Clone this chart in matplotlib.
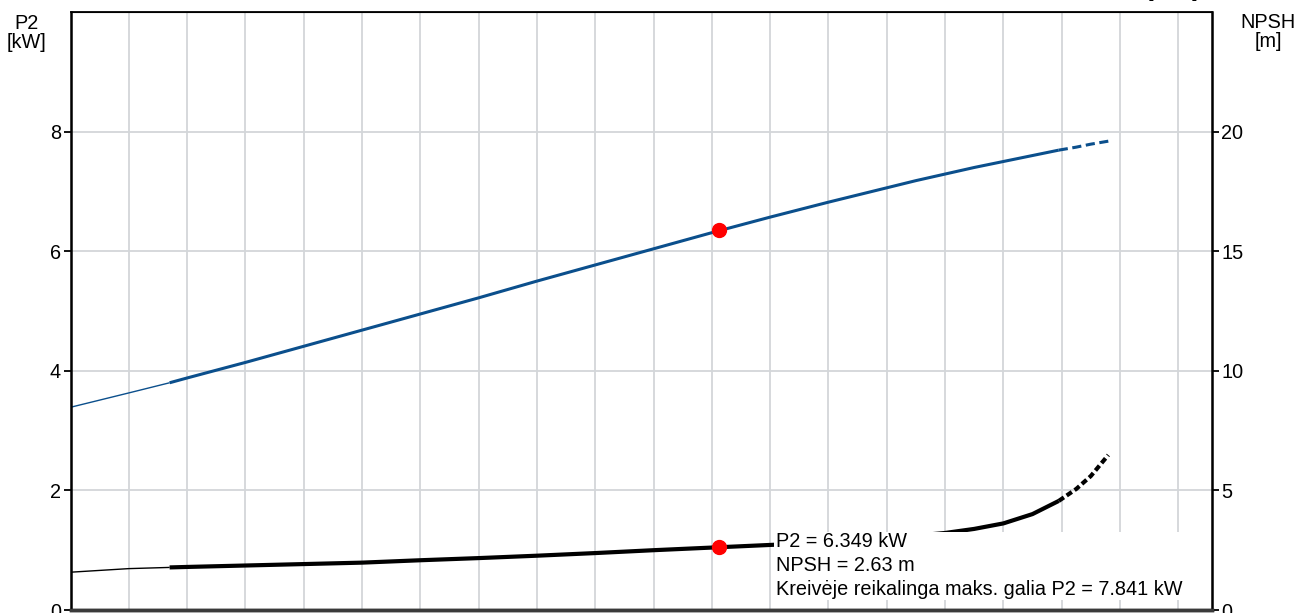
import matplotlib
matplotlib.use("Agg")
import matplotlib.pyplot as plt
import numpy as np
from matplotlib.patches import Rectangle

plt.rcParams['font.family'] = ['Liberation Sans', 'DejaVu Sans']

# ---- data ----
q = np.array([0, 2, 3.4, 4, 6, 8, 10, 12, 14, 16, 18, 20, 22, 24, 26, 28, 29, 30, 31, 32, 33,
              33.9, 34.5, 35, 35.6])
p2 = np.array([3.39, 3.63, 3.80, 3.88, 4.14, 4.41, 4.68, 4.95, 5.22, 5.50, 5.77, 6.04, 6.31,
               6.57, 6.82, 7.06, 7.18, 7.29, 7.40, 7.50, 7.60, 7.69, 7.74, 7.79, 7.84])
npsh = np.array([1.58, 1.73, 1.78, 1.80, 1.86, 1.92, 1.98, 2.08, 2.17, 2.27, 2.38, 2.50, 2.61,
                 2.72, 2.82, 2.99, 3.11, 3.22, 3.39, 3.62, 4.01, 4.56, 5.06, 5.60, 6.48])
q_op_min = 3.4
q_op_max = 33.9
q_duty = 22.25
p2_duty = 6.349
npsh_duty = 2.63
p2_max = 7.841

left_ticks = [0, 2, 4, 6, 8]
right_ticks = [0, 5, 10, 15, 20]
x_grid = np.arange(0, 40, 2)

blue = '#0b4f8c'
grid_c = '#d3d6d9'
FS = 14.3

fig = plt.figure(figsize=(12.98, 6.13), dpi=100)
ax = fig.add_axes([70.5/1298, 3/613, (1211.5-70.5)/1298, 598/613])
ax2 = ax.twinx()

ax.set_xlim(0, 39.14)
ax.set_ylim(0, 10)
ax2.set_ylim(0, 25)

ax.set_xticks(x_grid)
ax.set_yticks(left_ticks)
ax2.set_yticks(right_ticks)
ax.grid(True, color=grid_c, linewidth=1.3)
ax.set_axisbelow(True)
ax.tick_params(axis='x', length=0, labelbottom=False)
ax.tick_params(axis='y', length=5, width=1.3, labelsize=FS, pad=2, colors='black')
ax2.tick_params(axis='y', length=5, width=1.3, labelsize=FS, pad=2)

for s in ['left', 'right', 'top']:
    ax.spines[s].set_color('black')
    ax2.spines[s].set_color('black')
ax2.spines['left'].set_linewidth(1.8)
ax2.spines['right'].set_linewidth(1.8)
ax2.spines['top'].set_linewidth(1.3)
ax2.spines['bottom'].set_linewidth(2.5)
ax2.spines['bottom'].set_color('#3a3a3a')
ax.spines['bottom'].set_linewidth(2.5)
ax.spines['bottom'].set_color('#3a3a3a')

# P2 curve (left axis)
m_thin = q <= q_op_min
m_op = (q >= q_op_min) & (q <= q_op_max)
m_dash = q >= q_op_max
ax.plot(q[m_thin], p2[m_thin], color=blue, lw=1.0, solid_capstyle='butt')
ax.plot(q[m_op], p2[m_op], color=blue, lw=2.2, solid_capstyle='butt')
ax.plot(q[m_dash], p2[m_dash], color=blue, lw=2.2, linestyle=(0, (3, 1.5)))
ax.plot([q_duty], [p2_duty], 'o', color='#ff0000', ms=10, zorder=5)

# NPSH curve (right axis)
ax2.plot(q[m_thin], npsh[m_thin], color='black', lw=1.0, solid_capstyle='butt', zorder=2)
ax2.plot(q[m_op], npsh[m_op], color='black', lw=3.0, solid_capstyle='butt', zorder=2)
ax2.plot(q[m_dash], npsh[m_dash], color='black', lw=3.0, linestyle=(0, (1.5, 0.8)), zorder=2)
ax2.plot([q_duty], [npsh_duty], 'o', color='#ff0000', ms=10, zorder=5)

# annotation box
ax2.add_patch(Rectangle((0.617, 0.016), 0.37, 0.114, transform=ax2.transAxes,
                        facecolor='white', edgecolor='none', zorder=3))
tx = 0.6185
ax2.text(tx, (610-547)/598, f'P2 = {p2_duty:.3f} kW', transform=ax2.transAxes,
         fontsize=FS, va='baseline', ha='left', zorder=4)
ax2.text(tx, (610-571)/598, f'NPSH = {npsh_duty:.2f} m', transform=ax2.transAxes,
         fontsize=FS, va='baseline', ha='left', zorder=4)
ax2.text(tx, (610-595)/598, f'Kreivėje reikalinga maks. galia P2 = {p2_max:.3f} kW',
         transform=ax2.transAxes, fontsize=FS, va='baseline', ha='left', zorder=4)

# axis titles
fig.text(27/1298, 1 - 33/613, 'P2\n[kW]', ha='center', va='center', fontsize=FS, linespacing=1.05)
fig.text(1268/1298, 1 - 32/613, 'NPSH\n[m]', ha='center', va='center', fontsize=FS, linespacing=1.05)
# clipped x-axis unit from the chart above
fig.text(1173/1298, 1 + 3/613, '[m³/h]', ha='center', va='baseline', fontsize=FS)

fig.savefig('out.png', dpi=100)
